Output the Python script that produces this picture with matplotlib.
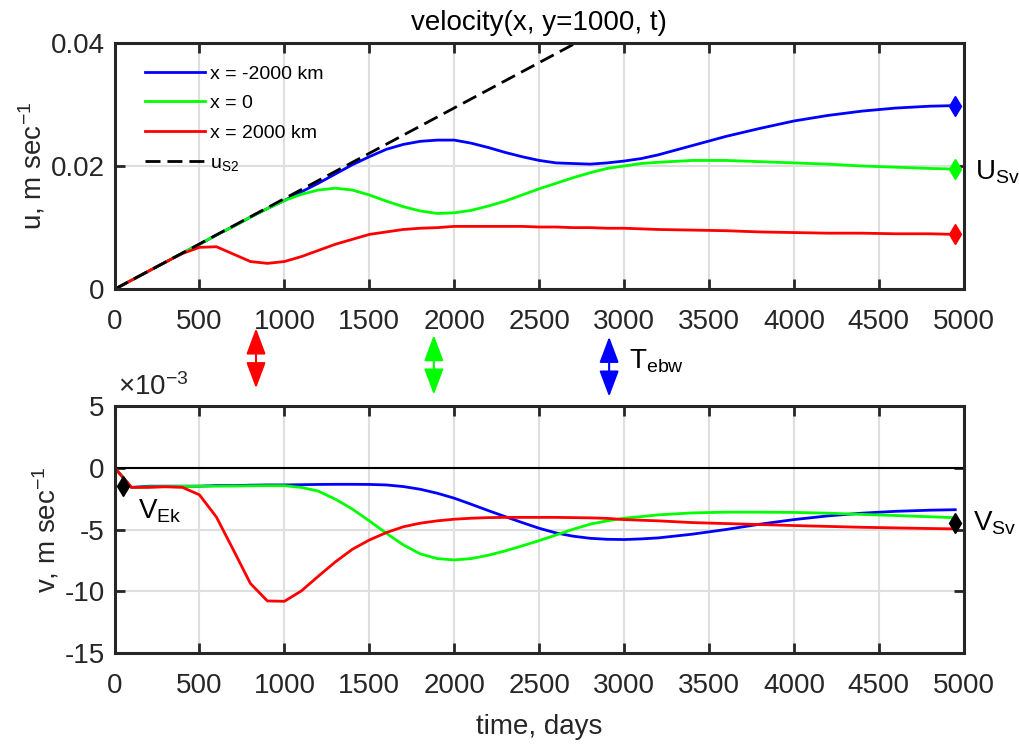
import numpy as np
import matplotlib
matplotlib.use("Agg")
import matplotlib.pyplot as plt
from matplotlib.ticker import FuncFormatter, MultipleLocator

plt.rcParams["font.family"] = ["Liberation Sans", "DejaVu Sans"]
plt.rcParams["mathtext.fontset"] = "custom"
plt.rcParams["mathtext.rm"] = "Liberation Sans"
plt.rcParams["mathtext.it"] = "Liberation Sans"
plt.rcParams["axes.unicode_minus"] = False

# time axis, days
t = [0, 100, 200, 300, 400, 500, 600, 700, 800, 900,
     1000, 1100, 1200, 1300, 1400, 1500, 1600, 1700, 1800, 1900,
     2000, 2100, 2200, 2300, 2400, 2500, 2600, 2700, 2800, 2900,
     3000, 3100, 3200, 3400, 3600, 3800, 4000, 4200, 4400, 4600, 4800, 4950]

# u (m/s) at y = 1000 km
u_west = [0, 0.00147, 0.00294, 0.0044, 0.00588, 0.0073, 0.0088, 0.0102, 0.0117, 0.0131,
          0.0144, 0.0158, 0.0172, 0.0187, 0.0202, 0.0215, 0.0227, 0.0235, 0.0240, 0.0242,
          0.0242, 0.0237, 0.0230, 0.0222, 0.0215, 0.0209, 0.0205, 0.0204, 0.0203, 0.0205,
          0.0208, 0.0212, 0.0218, 0.0233, 0.0248, 0.0261, 0.0273, 0.0282, 0.0289, 0.0294,
          0.0297, 0.0298]
u_mid = [0, 0.00147, 0.00294, 0.0044, 0.00588, 0.0073, 0.0088, 0.0102, 0.0117, 0.0131,
         0.0144, 0.0154, 0.0161, 0.0164, 0.0161, 0.0153, 0.0143, 0.0134, 0.0127, 0.0123,
         0.0124, 0.0128, 0.0135, 0.0143, 0.0153, 0.0163, 0.0172, 0.0181, 0.0189, 0.0196,
         0.0200, 0.0204, 0.0206, 0.0209, 0.0209, 0.0207, 0.0205, 0.0203, 0.0200, 0.0198,
         0.0196, 0.0195]
u_east = [0, 0.00147, 0.00294, 0.0044, 0.0058, 0.0068, 0.0069, 0.0057, 0.0045, 0.0042,
          0.0045, 0.0053, 0.0063, 0.0073, 0.0081, 0.0089, 0.0093, 0.0097, 0.0099, 0.0100,
          0.0102, 0.0102, 0.0102, 0.0102, 0.0102, 0.0101, 0.0101, 0.0100, 0.0100, 0.0099,
          0.0099, 0.0098, 0.0097, 0.0096, 0.0095, 0.0093, 0.0092, 0.0091, 0.0091, 0.0090,
          0.0090, 0.0089]

# linearly growing flow u_S2
t_us2 = [0, 4950]
us2 = [0, 0.0728]

# v in units of 1e-3 m/s
v_west = [0, -1.6, -1.5, -1.5, -1.5, -1.5, -1.45, -1.45, -1.42, -1.4,
          -1.4, -1.38, -1.36, -1.35, -1.35, -1.36, -1.4, -1.53, -1.75, -2.07,
          -2.47, -2.96, -3.47, -3.96, -4.44, -4.9, -5.28, -5.54, -5.71, -5.79,
          -5.81, -5.76, -5.68, -5.38, -5.0, -4.57, -4.2, -3.9, -3.68, -3.53,
          -3.44, -3.4]
v_mid = [0, -1.6, -1.55, -1.53, -1.52, -1.5, -1.5, -1.49, -1.47, -1.46,
         -1.46, -1.6, -1.9, -2.55, -3.35, -4.3, -5.3, -6.24, -6.97, -7.35,
         -7.46, -7.35, -7.08, -6.73, -6.32, -5.9, -5.44, -4.98, -4.57, -4.3,
         -4.09, -3.96, -3.82, -3.66, -3.6, -3.6, -3.62, -3.68, -3.78, -3.87,
         -3.97, -4.05]
v_east = [0, -1.6, -1.6, -1.55, -1.6, -2.2, -4.0, -6.66, -9.36, -10.77,
          -10.8, -9.96, -8.77, -7.62, -6.6, -5.85, -5.25, -4.78, -4.49, -4.3,
          -4.17, -4.09, -4.04, -4.02, -4.02, -4.02, -4.02, -4.04, -4.06, -4.1,
          -4.2, -4.25, -4.3, -4.44, -4.52, -4.6, -4.68, -4.75, -4.82, -4.87,
          -4.92, -4.95]

# Ekman and Sverdrup reference values for v (1e-3 m/s)
t_ek, v_ek = 50, -1.5
v_sv = -4.5

# eastern boundary wave arrival times (days) for x = -2000, 0, 2000 km
t_ebw = [2912, 1880, 833]

colors = ["#0000ff", "#00ff00", "#ff0000"]
labels = ["x = -2000 km", "x = 0", "x = 2000 km"]
dark = "#262626"
grid_c = "#dfdfdf"
fs = 20
lw = 2

fig = plt.figure(figsize=(10.19, 7.44), dpi=100)
ax1 = fig.add_axes([0.1124, 0.6112, 0.8334, 0.3314])
ax2 = fig.add_axes([0.1124, 0.1219, 0.8334, 0.3328])


def style(ax):
    ax.grid(True, color=grid_c, linewidth=1.5)
    ax.set_axisbelow(True)
    for s in ax.spines.values():
        s.set_linewidth(2.2)
        s.set_color(dark)
    ax.tick_params(direction="in", length=7, width=2, top=True, right=True,
                   labelsize=fs, colors=dark, labelcolor=dark)
    ax.tick_params(axis="x", pad=14)
    ax.tick_params(axis="y", pad=7)
    ax.set_xlim(0, 5000)
    ax.xaxis.set_major_locator(MultipleLocator(500))


# --- u panel ---
style(ax1)
tt = np.array(t)
series_u = [u_west, u_mid, u_east]
for u, c, lab in zip(series_u, colors, labels):
    ax1.plot(tt, u, color=c, lw=lw, label=lab)
ax1.plot(t_us2, us2, color="k", lw=lw, dashes=(5.4, 2.5), label=r"$\mathregular{u_{S2}}$")
for u, c in zip(series_u, colors):
    ax1.plot(t[-1], u[-1], marker="d", ms=10.5, color=c, clip_on=False, zorder=5)
ax1.set_ylim(0, 0.04)
ax1.set_yticks([0, 0.02, 0.04])
ax1.yaxis.set_major_formatter(FuncFormatter(lambda v, p: "%g" % round(v, 3)))
ax1.set_ylabel(r"u, m sec$^{\mathregular{-1}}$", fontsize=fs, color=dark, labelpad=2)
ax1.set_title("velocity(x, y=1000, t)", fontsize=fs, pad=9)
ax1.legend(loc="upper left", bbox_to_anchor=(0.02, 0.965), frameon=False, fontsize=14,
           handlelength=3.1, handletextpad=0.25, labelspacing=0.62, borderaxespad=0.3)
ax1.annotate(r"$\mathregular{U_{Sv}}$", xy=(t[-1], u_mid[-1]), xytext=(14.5, -7.5),
             textcoords="offset points", fontsize=fs, va="baseline", ha="left",
             annotation_clip=False)

# --- v panel ---
style(ax2)
ax2.axhline(0, color="k", lw=1.5, zorder=1.5)
for v, c in zip([v_west, v_mid, v_east], colors):
    ax2.plot(tt, np.array(v) * 1e-3, color=c, lw=lw)
ax2.plot(t_ek, v_ek * 1e-3, marker="d", ms=10.5, color="k", zorder=5)
ax2.plot(t[-1], v_sv * 1e-3, marker="d", ms=10.5, color="k", zorder=5, clip_on=False)
ax2.set_ylim(-0.015, 0.005)
ax2.set_yticks([-0.015, -0.01, -0.005, 0, 0.005])
ax2.yaxis.set_major_formatter(FuncFormatter(lambda v, p: "%d" % round(v * 1e3)))
ax2.set_ylabel(r"v, m sec$^{\mathregular{-1}}$", fontsize=fs, color=dark, labelpad=2)
ax2.set_xlabel("time, days", fontsize=fs, color=dark, labelpad=11)
ax2.text(0.004, 1.02, r"$\times\mathregular{10^{-3}}$", transform=ax2.transAxes,
         fontsize=fs, color=dark, ha="left", va="bottom")
ax2.annotate(r"$\mathregular{V_{Ek}}$", xy=(t_ek, v_ek * 1e-3), xytext=(10.5, -23),
             textcoords="offset points", fontsize=fs, va="baseline", ha="left")
ax2.annotate(r"$\mathregular{V_{Sv}}$", xy=(t[-1], v_sv * 1e-3), xytext=(13, -5.5),
             textcoords="offset points", fontsize=fs, va="baseline", ha="left",
             annotation_clip=False)

# double arrows between the panels marking the wave arrival times
arrow_y = [(0.4668, 0.5474), (0.4695, 0.5497), (0.4781, 0.5587)]
for tb, (y0, y1), c in zip(t_ebw, arrow_y, colors):
    ax1.annotate("", xy=(tb, y0), xytext=(tb, y1),
                 xycoords=(ax1.transData, fig.transFigure),
                 arrowprops=dict(arrowstyle="<|-|>,head_length=0.8,head_width=0.3",
                                 mutation_scale=20, color=c, lw=1.5,
                                 shrinkA=0, shrinkB=0),
                 annotation_clip=False)
ax1.annotate(r"$\mathregular{T_{ebw}}$", xy=(t_ebw[0], 0.505),
             xycoords=(ax1.transData, fig.transFigure),
             xytext=(14.5, 0), textcoords="offset points", fontsize=fs,
             va="baseline", ha="left", annotation_clip=False)

fig.savefig("out.png", dpi=100)
